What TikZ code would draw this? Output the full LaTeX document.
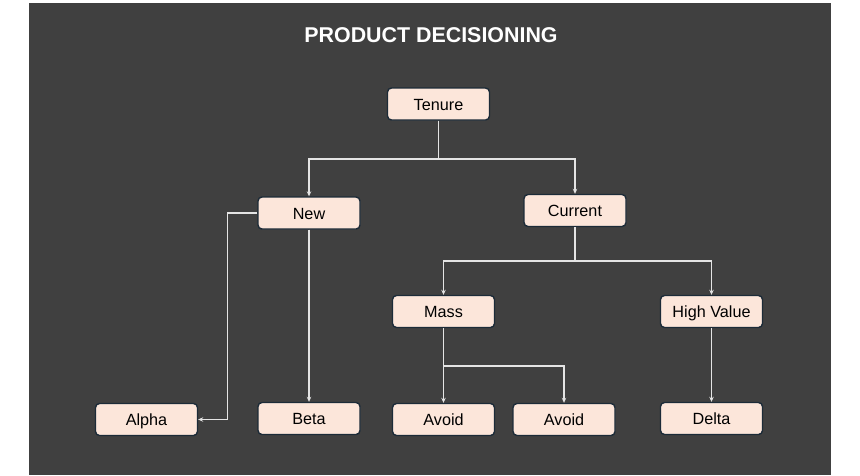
\documentclass[tikz,border=0pt]{standalone}
\usepackage{fontspec}
\setmainfont{Liberation Sans}
\usetikzlibrary{arrows.meta}
\definecolor{bgc}{HTML}{404040}
\definecolor{peach}{HTML}{FCE6DA}
\definecolor{edge}{HTML}{1C2B38}
\definecolor{wire}{HTML}{E4E4E4}
\tikzset{
  box/.style={draw=edge, fill=peach, rounded corners=4pt, line width=1.4pt,
    minimum width=102pt, minimum height=32pt, inner sep=0pt, text=black,
    text height=15pt, text depth=3pt,
    font=\fontsize{16.2}{19}\selectfont},
  conn/.style={draw=wire, line width=1.5pt},
  arr/.style={conn, -{Stealth[length=5pt,width=4.5pt]}},
}
\begin{document}
\begin{tikzpicture}[x=1pt,y=-1pt]
\useasboundingbox (0,0) rectangle (860,475);
\fill[bgc] (29,3) rectangle (831,475);
\node[text=white, font=\bfseries\fontsize{21.4}{24}\selectfont] (title) at (431,35) {PRODUCT DECISIONING};

\node[box] (tenure) at (438.5,104) {Tenure};
\node[box] (new) at (309,213) {New};
\node[box] (current) at (575,210.5) {Current};
\node[box] (mass) at (443.5,311.5) {Mass};
\node[box] (high) at (711.5,311.5) {High Value};
\node[box] (alpha) at (146.5,419.5) {Alpha};
\node[box] (beta) at (309,418.5) {Beta};
\node[box] (avoida) at (443.5,419.5) {Avoid};
\node[box] (avoidb) at (564,419.5) {Avoid};
\node[box] (delta) at (711.5,418.5) {Delta};

\coordinate (j1) at (438.5,159);
\coordinate (j2) at (575,261);
\coordinate (j3) at (443.5,366);

\draw[conn] (tenure.south) -- (j1);
\draw[arr] (j1) -| (new.north);
\draw[arr] (j1) -| (current.north);
\draw[conn] (current.south) -- (j2);
\draw[arr] (j2) -| (mass.north);
\draw[arr] (j2) -| (high.north);
\draw[arr] (mass.south) -- (avoida.north);
\draw[arr] (j3) -| (avoidb.north);
\draw[arr] (high.south) -- (delta.north);
\draw[arr] (new.south) -- (beta.north);
\draw[arr] (new.west) -- ++(-30,0) |- (alpha.east);
\end{tikzpicture}
\end{document}
